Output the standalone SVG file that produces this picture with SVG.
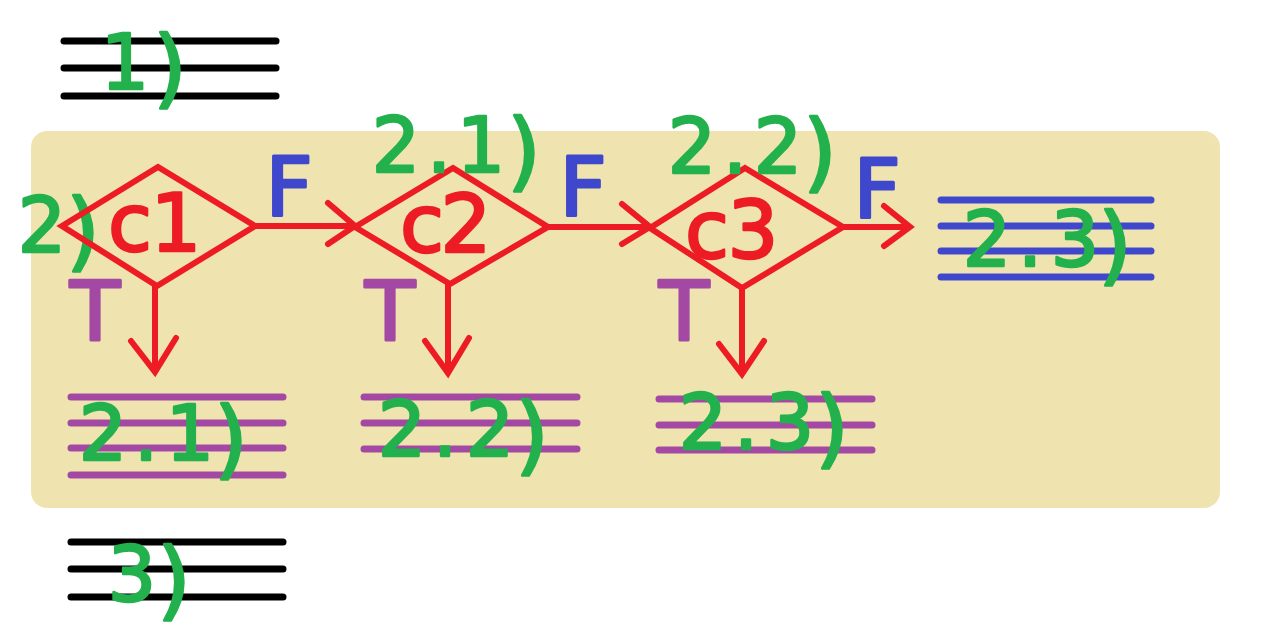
<svg xmlns="http://www.w3.org/2000/svg" width="1281" height="642" viewBox="0 0 1281 642">
<style>
.bk{stroke:#000;stroke-width:7;stroke-linecap:round;fill:none}
.pu{stroke:#A349A4;stroke-width:7;stroke-linecap:round;fill:none}
.bl{stroke:#3F48CC;stroke-width:7;stroke-linecap:round;fill:none}
.rd{stroke:#ED1C24;stroke-width:6;stroke-linecap:butt;stroke-linejoin:miter;fill:none}
.ah{stroke:#ED1C24;stroke-width:6;stroke-linecap:round;stroke-linejoin:miter;fill:none}
text{font-family:"DejaVu Sans","Liberation Sans",sans-serif;text-anchor:middle;stroke-linejoin:round;stroke-linecap:round}
.g{fill:#22B14C;stroke:#22B14C;stroke-width:2.5;font-size:76px}
.r{fill:#ED1C24;stroke:#ED1C24;stroke-width:2.5;font-size:80px}
.fb{fill:#3F48CC;stroke:#3F48CC;stroke-width:3;font-size:82px}
.tp{fill:#A349A4;stroke:#A349A4;stroke-width:3;font-size:82px}
.p{font-size:86px}
</style>
<rect x="31" y="131" width="1189" height="377" rx="16" fill="#EFE4B0"/>

<g id="step1">
<line class="bk" x1="64" y1="41" x2="276" y2="41"/>
<line class="bk" x1="64" y1="68" x2="276" y2="68"/>
<line class="bk" x1="64" y1="96" x2="276" y2="96"/>
<text class="g" x="125" y="89">1<tspan class="p" x="170" dy="8">)</tspan></text>
</g>

<g id="step2label">
<text class="g" x="42" y="252">2<tspan class="p" x="83" dy="8">)</tspan></text>
</g>

<g id="c1">
<polygon class="rd" points="62,226 158,167 255,226 157,286"/>
<text class="r" x="130 176" y="251">c1</text>
</g>
<g id="c2">
<polygon class="rd" points="355,227 453,168 548,227 450,284"/>
<text class="r" x="422 466" y="252">c2</text>
</g>
<g id="c3">
<polygon class="rd" points="650,228 745,168 843,227 742,288"/>
<text class="r" x="707 753" y="258">c3</text>
</g>

<g id="label21top"><text class="g" x="396 439 481" y="172">2.1<tspan class="p" x="524" dy="8">)</tspan></text></g>
<g id="label22top"><text class="g" x="692 735 778" y="173">2.2<tspan class="p" x="820" dy="8">)</tspan></text></g>

<g id="box21">
<line class="pu" x1="71" y1="397" x2="283" y2="397"/>
<line class="pu" x1="71" y1="423" x2="283" y2="423"/>
<line class="pu" x1="71" y1="448" x2="283" y2="448"/>
<line class="pu" x1="71" y1="475" x2="283" y2="475"/>
<text class="g" x="103 146 190" y="460">2.1<tspan class="p" x="231" dy="8">)</tspan></text>
</g>
<g id="box22">
<line class="pu" x1="364" y1="397" x2="577" y2="397"/>
<line class="pu" x1="364" y1="423" x2="577" y2="423"/>
<line class="pu" x1="364" y1="449" x2="577" y2="449"/>
<text class="g" x="402 445 490" y="456">2.2<tspan class="p" x="532" dy="8">)</tspan></text>
</g>
<g id="box23">
<line class="pu" x1="659" y1="399" x2="872" y2="399"/>
<line class="pu" x1="659" y1="425" x2="872" y2="425"/>
<line class="pu" x1="659" y1="450" x2="872" y2="450"/>
<text class="g" x="703 746 790" y="449">2.3<tspan class="p" x="832" dy="8">)</tspan></text>
</g>
<g id="boxF">
<line class="bl" x1="941" y1="200" x2="1151" y2="200"/>
<line class="bl" x1="941" y1="226" x2="1151" y2="226"/>
<line class="bl" x1="941" y1="251" x2="1151" y2="251"/>
<line class="bl" x1="941" y1="277" x2="1151" y2="277"/>
<text class="g" x="987 1030 1075" y="266">2.3<tspan class="p" x="1115" dy="8">)</tspan></text>
</g>

<g id="step3">
<line class="bk" x1="71" y1="542" x2="283" y2="542"/>
<line class="bk" x1="71" y1="569" x2="283" y2="569"/>
<line class="bk" x1="71" y1="597" x2="283" y2="597"/>
<text class="g" x="132" y="601">3<tspan class="p" x="174" dy="8">)</tspan></text>
</g>

<g id="connectors">
<line class="rd" x1="255" y1="226" x2="355" y2="226"/>
<polyline class="ah" points="328,203 355,226 328,244"/>
<line class="rd" x1="548" y1="227" x2="650" y2="227"/>
<polyline class="ah" points="622,204 650,227 622,244"/>
<line class="rd" x1="843" y1="227" x2="910" y2="227"/>
<polyline class="ah" points="884,206 910,227 884,246"/>
<line class="rd" x1="155" y1="286" x2="155" y2="372"/>
<polyline class="ah" points="131,341 155,372 176,338"/>
<line class="rd" x1="448" y1="284" x2="448" y2="373"/>
<polyline class="ah" points="425,341 448,373 469,338"/>
<line class="rd" x1="742" y1="288" x2="742" y2="374"/>
<polyline class="ah" points="719,344 742,374 764,341"/>
<text class="fb" x="289" y="216">F</text>
<text class="fb" x="583" y="216">F</text>
<text class="fb" x="877" y="218">F</text>
<text class="tp" x="95" y="340">T</text>
<text class="tp" x="390" y="340">T</text>
<text class="tp" x="684" y="340">T</text>
</g>
</svg>
